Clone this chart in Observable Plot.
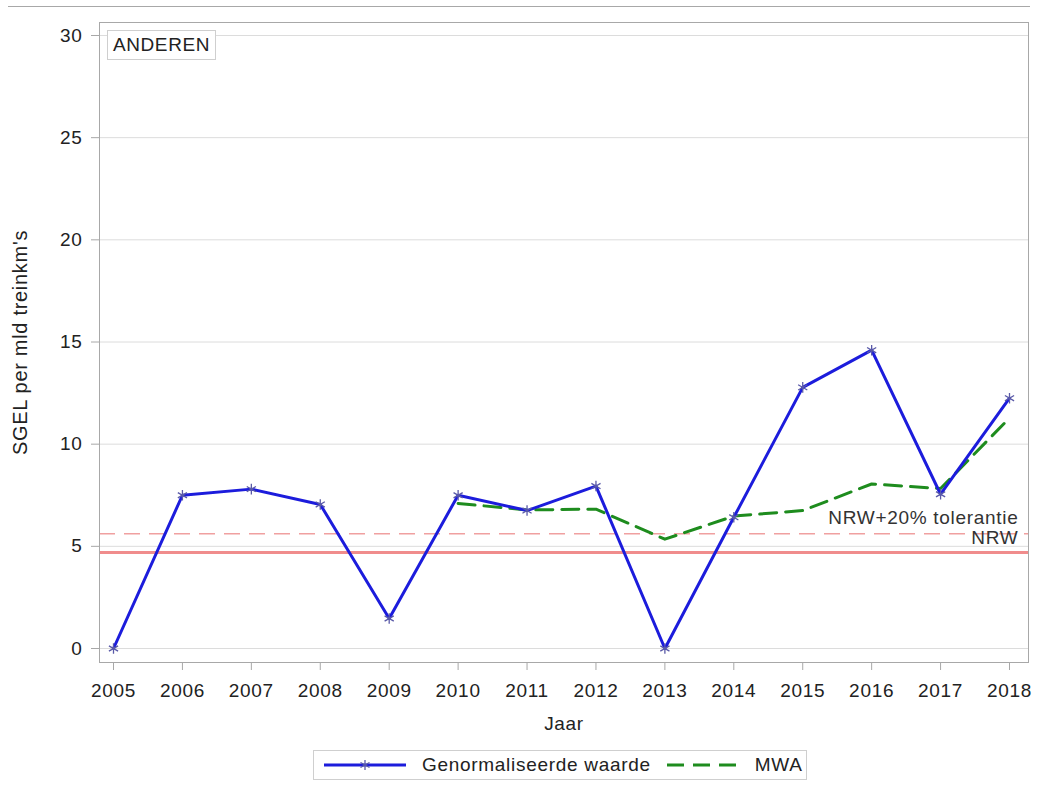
<!DOCTYPE html>
<html>
<head>
<meta charset="utf-8">
<script src="https://cdn.jsdelivr.net/npm/d3@7"></script>
<script src="https://cdn.jsdelivr.net/npm/@observablehq/plot@0.6"></script>
<style>
  html, body { margin: 0; padding: 0; background: #fff; }
  #wrap { position: relative; width: 1042px; height: 785px; font-family: "Liberation Sans", Arial, sans-serif; color: #222; }
  #topline { position: absolute; left: 8px; top: 6px; width: 1022px; border-top: 1px solid #a8a8a8; }
  #inset { position: absolute; left: 107px; top: 30px; width: 107px; height: 28px; border: 1px solid #cfcfcf; background: #fff;
           font-size: 19px; line-height: 28px; text-align: center; letter-spacing: 0.6px; }
  #legend { position: absolute; left: 313px; top: 750px; width: 492px; height: 28px; border: 1px solid #cfcfcf;
            display: flex; align-items: center; font-size: 19px; letter-spacing: 0.7px; }
  #legend svg { display: block; }
</style>
</head>
<body>
<div id="wrap">
  <div id="chart"></div>
  <div id="topline"></div>
  <div id="inset">ANDEREN</div>
  <div id="legend">
    <svg width="90" height="28" style="margin-left:8px"><line x1="2" y1="14" x2="84" y2="14" stroke="#1c1cdc" stroke-width="3"/>
      <g stroke="#5a5aa8" stroke-width="1.3"><line x1="43" y1="9" x2="43" y2="19"/><line x1="38.5" y1="11.5" x2="47.5" y2="16.5"/><line x1="38.5" y1="16.5" x2="47.5" y2="11.5"/></g></svg>
    <span style="margin-left:10px">Genormaliseerde waarde</span>
    <svg width="80" height="28" style="margin-left:14px"><line x1="2" y1="14" x2="78" y2="14" stroke="#1e8c1e" stroke-width="3" stroke-dasharray="17,9"/></svg>
    <span style="margin-left:10px">MWA</span>
  </div>
</div>
<script>
const years = [2005, 2006, 2007, 2008, 2009, 2010, 2011, 2012, 2013, 2014, 2015, 2016, 2017, 2018];
const genormaliseerd = [0, 7.5, 7.8, 7.05, 1.47, 7.5, 6.75, 7.95, 0, 6.42, 12.78, 14.6, 7.55, 12.25];
const mwaYears = [2010, 2011, 2012, 2013, 2014, 2015, 2016, 2017, 2018];
const mwa = [7.1, 6.78, 6.82, 5.35, 6.48, 6.75, 8.05, 7.83, 11.28];
const nrw = 4.7;
const nrwTol = 5.62;
const yTicks = [0, 5, 10, 15, 20, 25, 30];

const gen = years.map((y, i) => ({year: y, value: genormaliseerd[i]}));
const mw = mwaYears.map((y, i) => ({year: y, value: mwa[i]}));

const font = "Liberation Sans, Arial, sans-serif";

const chart = Plot.plot({
  width: 1042,
  height: 745,
  marginTop: 22,
  marginBottom: 83,
  marginLeft: 99,
  marginRight: 14,
  style: {fontFamily: font, fontSize: "19px", color: "#222", background: "#fff", letterSpacing: "0.7px"},
  x: {domain: [2005, 2018], insetLeft: 14, insetRight: 19},
  y: {domain: [0, 30], insetTop: 13, insetBottom: 14},
  marks: [
    Plot.gridY(yTicks, {stroke: "#dcdcdc", strokeOpacity: 1, strokeWidth: 1}),
    Plot.ruleY([nrw], {stroke: "#f08c8c", strokeWidth: 3}),
    Plot.ruleY([nrwTol], {stroke: "#f0a0a0", strokeWidth: 1.5, strokeDasharray: "16,9"}),
    Plot.lineY(mw, {x: "year", y: "value", stroke: "#1e8c1e", strokeWidth: 3, strokeDasharray: "17,9"}),
    Plot.lineY(gen, {x: "year", y: "value", stroke: "#1c1cdc", strokeWidth: 3}),
    Plot.dot(gen, {x: "year", y: "value", symbol: "asterisk", r: 5, stroke: "#5a5aa8", strokeWidth: 1.3}),
    Plot.text(["NRW+20% tolerantie"], {frameAnchor: "right", y: [nrwTol], dx: -10, dy: -16, textAnchor: "end", fill: "#333"}),
    Plot.text(["NRW"], {frameAnchor: "right", y: [nrwTol], dx: -10, dy: 4, textAnchor: "end", fill: "#333"}),
    Plot.frame({stroke: "#a8a8a8"}),
    Plot.axisY(yTicks, {tickSize: 8, tickPadding: 9, label: null, stroke: "#a8a8a8", fill: "#222"}),
    Plot.axisX(years, {tickSize: 8, tickPadding: 13, label: null, tickFormat: d => String(d), stroke: "#a8a8a8", fill: "#222"}),
    Plot.text(["SGEL per mld treinkm's"], {frameAnchor: "left", dx: -79, rotate: -90, textAnchor: "middle", fontSize: 20, fill: "#222"}),
    Plot.text(["Jaar"], {frameAnchor: "bottom", dy: 67, fill: "#222"})
  ]
});
document.getElementById("chart").appendChild(chart);
</script>
</body>
</html>
